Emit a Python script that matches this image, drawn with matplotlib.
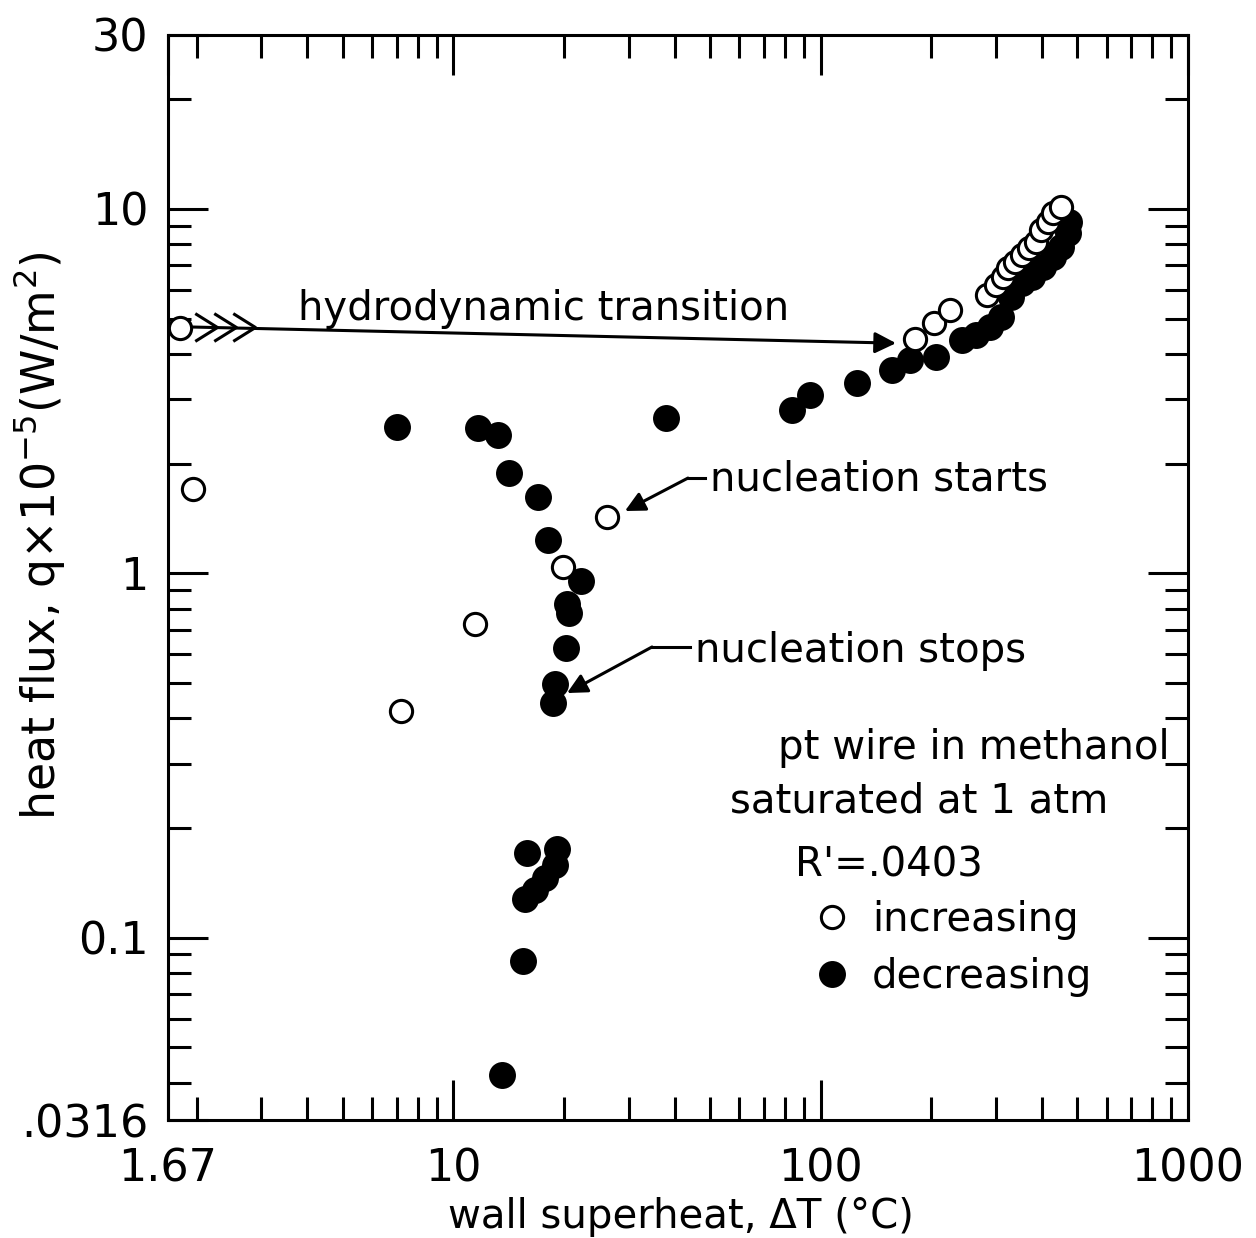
import numpy as np
import matplotlib
matplotlib.use("Agg")
import matplotlib.pyplot as plt
from matplotlib.path import Path
from matplotlib.ticker import LogLocator, NullFormatter

# ---------------- data ----------------
# increasing heat flux (open circles)
inc_dT = [1.80, 1.957, 7.20, 11.44, 19.91, 26.24, 180.6, 202.8, 224.9, 283.3,
          299.4, 312.8, 323.4, 337.9, 353.3, 369.1, 385.7, 398.0, 415.8, 430.3, 449.7]
inc_q = [4.71, 1.70, 0.420, 0.726, 1.042, 1.424, 4.39, 4.87, 5.28, 5.80,
         6.18, 6.51, 6.87, 7.16, 7.47, 7.81, 8.13, 8.75, 9.22, 9.74, 10.14]

# decreasing heat flux (filled circles)
dec_dT = [7.005, 11.68, 13.25, 14.19, 16.96, 18.05, 22.25, 20.34, 20.68, 20.25,
          18.90, 18.70, 15.89, 19.17, 18.90, 17.75, 16.67, 15.66, 15.50, 13.58,
          37.86, 83.5, 93.3, 125.5, 156.4, 174.6, 206.0, 242.4, 264.8, 289.0,
          309.6, 329.7, 353.3, 377.2, 403.0, 430.3, 449.7, 469.9, 474.4]
dec_q = [2.525, 2.50, 2.395, 1.888, 1.622, 1.234, 0.952, 0.8235, 0.7765, 0.6248,
         0.4967, 0.4413, 0.1704, 0.1748, 0.1582, 0.1458, 0.1351, 0.1277, 0.0865, 0.0420,
         2.662, 2.806, 3.084, 3.321, 3.613, 3.848, 3.929, 4.366, 4.506, 4.75,
         5.06, 5.74, 6.26, 6.51, 6.94, 7.39, 7.87, 8.59, 9.22]

x_ticks = [1.67, 10, 100, 1000]
x_ticklabels = ["1.67", "10", "100", "1000"]
y_ticks = [0.0316, 0.1, 1, 10, 30]
y_ticklabels = [".0316", "0.1", "1", "10", "30"]

# annotation anchor points (data coordinates)
hydro_start = (1.941, 4.74)
hydro_tip = (160.3, 4.28)
chevron_x = [2.27, 2.557, 2.88]
chevron_y = 4.74
start_text_pt = (48.4, 1.825)
start_knee = (43.5, 1.825)
start_tip = (29.3, 1.482)
stop_text_pt = (44.06, 0.6277)
stop_knee = (34.72, 0.6277)
stop_tip = (20.38, 0.4692)

FS = 29
LW = 2.2

fig = plt.figure(figsize=(12.56, 12.38), dpi=100)
ax = fig.add_axes([168 / 1256, 1 - 1120 / 1238, 1020 / 1256, 1085 / 1238])
ax.set_xscale('log')
ax.set_yscale('log')
ax.set_xlim(1.67, 1000)
ax.set_ylim(0.0316, 30)

dec_line, = ax.plot(dec_dT, dec_q, 'o', ms=19.4, mfc='black', mec='black', mew=0,
                    ls='none', zorder=3, label='decreasing')
inc_line, = ax.plot(inc_dT, inc_q, 'o', ms=16, mfc='white', mec='black', mew=LW,
                    ls='none', zorder=4, clip_on=False, label='increasing')

# ticks
ax.set_xticks(x_ticks, labels=x_ticklabels)
ax.set_yticks(y_ticks, labels=y_ticklabels)
ax.xaxis.set_minor_locator(LogLocator(base=10, subs=np.arange(2, 10), numticks=20))
ax.yaxis.set_minor_locator(LogLocator(base=10, subs=np.arange(2, 10), numticks=20))
ax.xaxis.set_minor_formatter(NullFormatter())
ax.yaxis.set_minor_formatter(NullFormatter())
ax.tick_params(which='both', direction='in', top=True, right=True, width=LW, color='black')
ax.tick_params(which='major', length=28.5, labelsize=32)
ax.tick_params(which='minor', length=16.5)
ax.tick_params(axis='x', which='major', pad=20)
ax.tick_params(axis='y', which='major', pad=14)
for sp in ax.spines.values():
    sp.set_linewidth(LW)

ax.set_xlabel("wall superheat, \u0394T (\u00b0C)", fontsize=29)
ax.xaxis.set_label_coords(0.503, -0.071)
ax.set_ylabel(r"heat flux, q$\times$10$^{-5}$(W/m$^2$)", fontsize=33)
ax.yaxis.set_label_coords(-0.099, 0.539)

# hydrodynamic transition arrow
ax.annotate("", xy=hydro_tip, xytext=hydro_start,
            arrowprops=dict(arrowstyle='-|>', mutation_scale=32, lw=LW, color='black',
                            shrinkA=0, shrinkB=0), zorder=5)
chev = Path([(-1.6, 1.0), (0.0, 0.0), (-1.6, -1.0)],
            [Path.MOVETO, Path.LINETO, Path.LINETO])
ax.plot(chevron_x, [chevron_y] * len(chevron_x), ls='none', marker=chev, ms=32,
        mfc='none', mec='black', mew=LW, zorder=5)
ax.text(0.1275, 0.737, "hydrodynamic transition", transform=ax.transAxes,
        fontsize=FS, ha='left', va='baseline')

# nucleation starts
ax.plot([start_text_pt[0], start_knee[0]], [start_text_pt[1], start_knee[1]],
        color='black', lw=LW)
ax.annotate("", xy=start_tip, xytext=start_knee,
            arrowprops=dict(arrowstyle='-|>', mutation_scale=30, lw=LW, color='black',
                            shrinkA=0, shrinkB=0))
ax.text(0.5314, 0.5806, "nucleation starts", transform=ax.transAxes,
        fontsize=FS, ha='left', va='baseline')

# nucleation stops
ax.plot([stop_text_pt[0], stop_knee[0]], [stop_text_pt[1], stop_knee[1]],
        color='black', lw=LW)
ax.annotate("", xy=stop_tip, xytext=stop_knee,
            arrowprops=dict(arrowstyle='-|>', mutation_scale=30, lw=LW, color='black',
                            shrinkA=0, shrinkB=0))
ax.text(0.5167, 0.422, "nucleation stops", transform=ax.transAxes,
        fontsize=FS, ha='left', va='baseline')

# description block
ax.text(0.598, 0.333, "pt wire in methanol", transform=ax.transAxes,
        fontsize=FS, ha='left', va='baseline')
ax.text(0.551, 0.283, "saturated at 1 atm", transform=ax.transAxes,
        fontsize=FS, ha='left', va='baseline')
ax.text(0.6147, 0.224, "R'=.0403", transform=ax.transAxes,
        fontsize=FS, ha='left', va='baseline')

ax.legend(handles=[inc_line, dec_line], labels=['increasing', 'decreasing'],
          loc='upper left', bbox_to_anchor=(0.631, 0.2025), frameon=False,
          borderpad=0, borderaxespad=0, handlelength=1.0, handletextpad=0.5,
          labelspacing=0.42, fontsize=FS, markerscale=1.0)

fig.savefig("out.png", dpi=100)
